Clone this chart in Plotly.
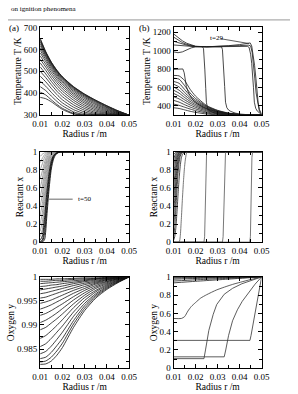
import plotly.graph_objects as go

W, H = 298, 394
FONT = "Liberation Serif, Times New Roman, serif"

# ---------------- common radius grid ----------------
R_GRID = [0.010, 0.0125, 0.015, 0.0175, 0.020, 0.025, 0.030, 0.035, 0.040, 0.045, 0.050]

# ---------------- (a) temperature T/K ----------------
T_A01 = [381, 375, 361, 343, 326, 305, 300, 300, 300, 300, 300]
T_A02 = [405, 392, 370, 349, 331, 308, 300, 300, 300, 300, 300]
T_A03 = [430, 412, 387, 363, 343, 315, 302, 300, 300, 300, 300]
T_A04 = [455, 432, 404, 378, 356, 325, 307, 301, 300, 300, 300]
T_A05 = [478, 452, 422, 394, 370, 336, 314, 303, 300, 300, 300]
T_A06 = [500, 471, 439, 409, 384, 347, 322, 307, 302, 300, 300]
T_A07 = [520, 488, 454, 423, 397, 358, 330, 312, 304, 301, 300]
T_A08 = [538, 504, 468, 436, 409, 368, 338, 318, 307, 302, 300]
T_A09 = [555, 519, 481, 448, 420, 378, 346, 324, 310, 303, 300]
T_A10 = [570, 532, 493, 459, 430, 387, 354, 330, 314, 304, 300]
T_A11 = [584, 544, 504, 469, 439, 395, 361, 336, 318, 306, 300]
T_A12 = [596, 554, 513, 477, 447, 402, 368, 342, 322, 308, 300]
T_A13 = [607, 563, 521, 484, 454, 409, 375, 348, 326, 310, 300]
T_A14 = [617, 570, 527, 490, 460, 415, 381, 353, 330, 312, 300]
T_A15 = [626, 576, 532, 495, 465, 420, 386, 358, 334, 314, 300]
T_A16 = [634, 581, 536, 499, 469, 424, 390, 362, 337, 316, 300]
T_A17 = [641, 585, 539, 502, 472, 427, 393, 365, 340, 318, 300]
T_A18 = [646, 588, 541, 504, 474, 429, 395, 367, 342, 319, 300]
T_A19 = [650, 590, 542, 505, 475, 430, 396, 368, 343, 320, 300]
TEMP_A = [T_A01, T_A02, T_A03, T_A04, T_A05, T_A06, T_A07, T_A08, T_A09, T_A10,
          T_A11, T_A12, T_A13, T_A14, T_A15, T_A16, T_A17, T_A18, T_A19]

# ---------------- (b) temperature T/K ----------------
T_B01 = [380, 372, 357, 342, 330, 312, 303, 300, 300, 300, 300]
T_B02 = [420, 406, 386, 366, 349, 323, 308, 301, 300, 300, 300]
T_B03 = [460, 441, 413, 388, 367, 334, 314, 303, 300, 300, 300]
T_B04 = [500, 476, 441, 410, 384, 345, 320, 306, 301, 300, 300]
T_B05 = [535, 506, 466, 430, 400, 355, 325, 309, 302, 300, 300]
T_B06 = [570, 538, 491, 449, 415, 364, 330, 312, 303, 300, 300]
T_B07 = [605, 570, 517, 469, 430, 373, 335, 314, 304, 301, 300]
T_B08 = [635, 605, 545, 489, 445, 381, 340, 316, 305, 301, 300]
T_B09 = [665, 645, 578, 512, 461, 389, 344, 318, 306, 301, 300]
T_B10 = [700, 690, 620, 540, 480, 396, 348, 320, 307, 302, 300]
T_B11 = [730, 725, 675, 580, 505, 404, 352, 322, 308, 302, 300]
TEMP_B_BAND = [T_B01, T_B02, T_B03, T_B04, T_B05, T_B06, T_B07, T_B08, T_B09, T_B10, T_B11]

R_B800 = [0.010, 0.012, 0.0135, 0.0142, 0.0148, 0.0153, 0.0158, 0.0165, 0.0175, 0.019,
          0.021, 0.0235, 0.026, 0.030, 0.035, 0.040, 0.050]
T_B800 = [796, 798, 806, 800, 760, 680, 610, 560, 510, 460, 420, 385, 360, 335, 315, 305, 300]

R_BP1 = [0.010, 0.012, 0.014, 0.016, 0.018, 0.020, 0.022, 0.0231, 0.0236, 0.0239, 0.0242,
         0.0246, 0.0249, 0.0254, 0.0262, 0.0275, 0.029, 0.031, 0.035, 0.040, 0.050]
T_BP1 = [985, 976, 985, 1008, 1028, 1040, 1043, 1042, 1020, 940, 790,
         590, 440, 375, 348, 332, 320, 311, 303, 300, 300]
R_BP2 = [0.010, 0.012, 0.014, 0.016, 0.018, 0.020, 0.025, 0.030, 0.0318, 0.0322, 0.0325,
         0.0328, 0.0332, 0.0336, 0.0342, 0.035, 0.036, 0.038, 0.040, 0.045, 0.050]
T_BP2 = [1060, 1055, 1050, 1046, 1043, 1041, 1040, 1040, 1039, 1010, 920,
         790, 610, 440, 380, 355, 340, 322, 312, 302, 300]
R_BP3 = [0.010, 0.012, 0.014, 0.016, 0.018, 0.020, 0.025, 0.030, 0.035, 0.040, 0.0435,
         0.0443, 0.0450, 0.0455, 0.0459, 0.0463, 0.0467, 0.0473, 0.0480, 0.0490, 0.0500]
T_BP3 = [1100, 1085, 1070, 1058, 1049, 1043, 1040, 1040, 1041, 1043, 1045,
         1035, 960, 860, 760, 600, 440, 375, 345, 322, 305]
R_BP4 = [0.010, 0.012, 0.014, 0.016, 0.018, 0.020, 0.025, 0.030, 0.035, 0.040, 0.0440,
         0.0450, 0.0457, 0.0463, 0.0469, 0.0475, 0.0482, 0.0490, 0.0500]
T_BP4 = [1145, 1112, 1086, 1066, 1052, 1044, 1040, 1042, 1047, 1053, 1058,
         1050, 980, 860, 700, 540, 420, 340, 310]
R_BP5 = [0.010, 0.012, 0.014, 0.016, 0.018, 0.020, 0.025, 0.030, 0.035, 0.040, 0.043,
         0.0448, 0.0455, 0.0462, 0.0468, 0.0474, 0.0479, 0.0484, 0.0490, 0.0496, 0.0500]
T_BP5 = [1180, 1140, 1105, 1078, 1058, 1046, 1040, 1044, 1052, 1064, 1074,
         1082, 1050, 960, 840, 700, 560, 440, 360, 325, 315]
PLATEAU_B = [(R_BP1, T_BP1), (R_BP2, T_BP2), (R_BP3, T_BP3), (R_BP4, T_BP4), (R_BP5, T_BP5)]

# ---------------- (a) reactant x ----------------
R_XA = [0.0100, 0.0110, 0.0120, 0.0130, 0.0140, 0.0150, 0.0160, 0.0170, 0.0180, 0.0190, 0.0200, 0.0500]
X_A01 = [0.95, 0.975, 0.99, 1, 1, 1, 1, 1, 1, 1, 1, 1]
X_A02 = [0.88, 0.93, 0.97, 0.99, 1, 1, 1, 1, 1, 1, 1, 1]
X_A03 = [0.80, 0.87, 0.94, 0.98, 0.995, 1, 1, 1, 1, 1, 1, 1]
X_A04 = [0.70, 0.79, 0.89, 0.96, 0.99, 1, 1, 1, 1, 1, 1, 1]
X_A05 = [0.60, 0.71, 0.84, 0.93, 0.98, 0.995, 1, 1, 1, 1, 1, 1]
X_A06 = [0.50, 0.62, 0.78, 0.90, 0.96, 0.99, 1, 1, 1, 1, 1, 1]
X_A07 = [0.40, 0.53, 0.71, 0.86, 0.94, 0.98, 0.995, 1, 1, 1, 1, 1]
X_A08 = [0.30, 0.43, 0.63, 0.81, 0.92, 0.97, 0.99, 1, 1, 1, 1, 1]
X_A09 = [0.20, 0.33, 0.54, 0.75, 0.89, 0.96, 0.985, 0.995, 1, 1, 1, 1]
X_A10 = [0.12, 0.23, 0.45, 0.69, 0.86, 0.94, 0.98, 0.995, 1, 1, 1, 1]
X_A11 = [0.06, 0.14, 0.36, 0.62, 0.82, 0.92, 0.97, 0.99, 1, 1, 1, 1]
X_A12 = [0.02, 0.07, 0.27, 0.55, 0.77, 0.90, 0.96, 0.985, 0.995, 1, 1, 1]
X_A13 = [0.005, 0.025, 0.18, 0.47, 0.72, 0.87, 0.95, 0.98, 0.995, 1, 1, 1]
X_A14 = [0, 0.008, 0.10, 0.38, 0.66, 0.85, 0.94, 0.975, 0.99, 1, 1, 1]
X_A15 = [0, 0, 0.03, 0.29, 0.59, 0.81, 0.92, 0.97, 0.99, 0.998, 1, 1]
REACT_A_GRAY = [X_A01, X_A02, X_A03, X_A04, X_A05, X_A06, X_A07, X_A08, X_A09, X_A10, X_A11]
REACT_A_DARK = [X_A12, X_A13, X_A14, X_A15]

# ---------------- (b) reactant x ----------------
R_XB = [0.010, 0.0105, 0.011, 0.0115, 0.012, 0.0125, 0.013, 0.0135, 0.014, 0.015, 0.050]
X_B01 = [0.97, 0.985, 0.995, 1, 1, 1, 1, 1, 1, 1, 1]
X_B02 = [0.92, 0.955, 0.98, 0.995, 1, 1, 1, 1, 1, 1, 1]
X_B03 = [0.85, 0.91, 0.955, 0.985, 0.995, 1, 1, 1, 1, 1, 1]
X_B04 = [0.75, 0.84, 0.91, 0.96, 0.985, 0.995, 1, 1, 1, 1, 1]
X_B05 = [0.62, 0.74, 0.85, 0.93, 0.97, 0.99, 1, 1, 1, 1, 1]
X_B06 = [0.48, 0.62, 0.77, 0.88, 0.95, 0.98, 0.995, 1, 1, 1, 1]
X_B07 = [0.33, 0.48, 0.66, 0.81, 0.91, 0.96, 0.985, 0.995, 1, 1, 1]
X_B08 = [0.18, 0.32, 0.52, 0.71, 0.85, 0.93, 0.97, 0.99, 1, 1, 1]
X_B09 = [0.06, 0.16, 0.35, 0.57, 0.76, 0.88, 0.95, 0.98, 0.995, 1, 1]
X_B10 = [0.02, 0.06, 0.15, 0.32, 0.52, 0.70, 0.84, 0.93, 0.97, 1, 1]
REACT_B_EARLY = [X_B01, X_B02, X_B03, X_B04, X_B05, X_B06, X_B07, X_B08, X_B09, X_B10]

R_XB800 = [0.010, 0.0125, 0.0130, 0.0135, 0.0140, 0.0145, 0.0150, 0.0155, 0.0162, 0.050]
X_B800 = [0, 0, 0.06, 0.25, 0.48, 0.68, 0.84, 0.94, 1, 1]
FRONT_LEVELS = [0, 0, 0.06, 0.5, 0.94, 1, 1]
R_XF1 = [0.010, 0.0238, 0.0241, 0.0244, 0.0247, 0.0250, 0.050]
R_XF2 = [0.010, 0.0322, 0.0325, 0.0329, 0.0333, 0.0336, 0.050]
R_XF3 = [0.010, 0.0446, 0.0449, 0.0452, 0.0456, 0.0459, 0.050]

# ---------------- (a) oxygen y ----------------
Y_A01 = [0.9818, 0.9819, 0.9825, 0.9837, 0.9853, 0.9895, 0.9930, 0.9956, 0.9974, 0.9988, 1.0]
Y_A02 = [0.9823, 0.9825, 0.9833, 0.9846, 0.9862, 0.9902, 0.9935, 0.9959, 0.9976, 0.9989, 1.0]
Y_A03 = [0.9830, 0.9833, 0.9843, 0.9857, 0.9872, 0.9909, 0.9940, 0.9962, 0.9978, 0.9990, 1.0]
Y_A04 = [0.9840, 0.9845, 0.9856, 0.9870, 0.9885, 0.9918, 0.9945, 0.9965, 0.9980, 0.9991, 1.0]
Y_A05 = [0.9855, 0.9861, 0.9872, 0.9885, 0.9898, 0.9927, 0.9951, 0.9969, 0.9982, 0.9992, 1.0]
Y_A06 = [0.9872, 0.9878, 0.9888, 0.9899, 0.9911, 0.9936, 0.9957, 0.9972, 0.9984, 0.9993, 1.0]
Y_A07 = [0.9890, 0.9895, 0.9904, 0.9913, 0.9923, 0.9944, 0.9962, 0.9976, 0.9986, 0.9994, 1.0]
Y_A08 = [0.9905, 0.9910, 0.9917, 0.9925, 0.9934, 0.9952, 0.9967, 0.9979, 0.9988, 0.9995, 1.0]
Y_A09 = [0.9920, 0.9924, 0.9930, 0.9937, 0.9944, 0.9959, 0.9972, 0.9982, 0.9990, 0.9996, 1.0]
Y_A10 = [0.9933, 0.9937, 0.9942, 0.9948, 0.9954, 0.9966, 0.9976, 0.9985, 0.9991, 0.9996, 1.0]
Y_A11 = [0.9945, 0.9948, 0.9952, 0.9957, 0.9962, 0.9972, 0.9980, 0.9987, 0.9993, 0.9997, 1.0]
Y_A12 = [0.9956, 0.9958, 0.9962, 0.9966, 0.9970, 0.9977, 0.9984, 0.9989, 0.9994, 0.9997, 1.0]
Y_A13 = [0.9965, 0.9967, 0.9970, 0.9973, 0.9976, 0.9982, 0.9987, 0.9991, 0.9995, 0.9998, 1.0]
Y_A14 = [0.9973, 0.9975, 0.9977, 0.9979, 0.9981, 0.9986, 0.9990, 0.9993, 0.9996, 0.9998, 1.0]
Y_A15 = [0.9980, 0.9981, 0.9983, 0.9984, 0.9986, 0.9989, 0.9992, 0.9995, 0.9997, 0.9999, 1.0]
Y_A16 = [0.9986, 0.9987, 0.9988, 0.9989, 0.9990, 0.9992, 0.9994, 0.9996, 0.9998, 0.9999, 1.0]
Y_A17 = [0.9991, 0.9991, 0.9992, 0.9993, 0.9993, 0.9995, 0.9996, 0.9997, 0.9998, 0.9999, 1.0]
Y_A18 = [0.9995, 0.9995, 0.9995, 0.9996, 0.9996, 0.9997, 0.9998, 0.9998, 0.9999, 1.0, 1.0]
OXY_A = [Y_A01, Y_A02, Y_A03, Y_A04, Y_A05, Y_A06, Y_A07, Y_A08, Y_A09, Y_A10,
         Y_A11, Y_A12, Y_A13, Y_A14, Y_A15, Y_A16, Y_A17, Y_A18]

# ---------------- (b) oxygen y ----------------
R_YB_TOP = [0.010, 0.020, 0.030, 0.040, 0.050]
Y_B_TOP1 = [0.935, 0.952, 0.968, 0.984, 1.0]
Y_B_TOP2 = [0.955, 0.968, 0.980, 0.990, 1.0]
Y_B_TOP3 = [0.975, 0.983, 0.990, 0.996, 1.0]
Y_B_TOP4 = [0.988, 0.992, 0.995, 0.998, 1.0]
Y_B_TOP5 = [0.996, 0.997, 0.998, 0.999, 1.0]
OXY_B_TOP = [Y_B_TOP1, Y_B_TOP2, Y_B_TOP3, Y_B_TOP4, Y_B_TOP5]

R_YB_D = [0.010, 0.0135, 0.015, 0.0165, 0.018, 0.020, 0.0223, 0.025, 0.0296, 0.0368, 0.044, 0.050]
Y_B_D = [0.545, 0.545, 0.565, 0.626, 0.675, 0.72, 0.768, 0.805, 0.858, 0.918, 0.965, 1.0]
R_YB_A = [0.010, 0.0238, 0.0245, 0.026, 0.028, 0.0296, 0.033, 0.0368, 0.041, 0.045, 0.050]
Y_B_A = [0.105, 0.105, 0.2, 0.413, 0.59, 0.698, 0.81, 0.875, 0.925, 0.96, 1.0]
R_YB_B = [0.010, 0.0330, 0.0337, 0.0350, 0.0368, 0.039, 0.0412, 0.044, 0.047, 0.050]
Y_B_B = [0.125, 0.125, 0.2, 0.36, 0.52, 0.64, 0.733, 0.83, 0.92, 1.0]
R_YB_C = [0.010, 0.0447, 0.0452, 0.050]
Y_B_C = [0.305, 0.305, 0.36, 1.0]

# ---------------- axis tick settings ----------------
X_TICKS = [0.01, 0.02, 0.03, 0.04, 0.05]

fig = go.Figure()


def add(r, v, ax, color="#111", width=0.8, shape="spline"):
    line = dict(color=color, width=width, shape=shape)
    if shape == "spline":
        line["smoothing"] = 0.6
    fig.add_trace(go.Scatter(x=r, y=v, mode="lines", line=line,
                             xaxis="x" + ax, yaxis="y" + ax,
                             showlegend=False, hoverinfo="skip"))


for c in TEMP_A:
    add(R_GRID, c, "", "#1a1a1a", 0.8)
for c in TEMP_B_BAND:
    add(R_GRID, c, "2", "#1a1a1a", 0.8)
add(R_B800, T_B800, "2", "#1a1a1a", 0.8, "linear")
for r, t in PLATEAU_B:
    add(r, t, "2", "#1a1a1a", 0.8, "linear")

for c in REACT_A_GRAY:
    add(R_XA, c, "3", "#8a8a8a", 0.8)
for c in REACT_A_DARK:
    add(R_XA, c, "3", "#111", 0.9)

for c in REACT_B_EARLY:
    add(R_XB, c, "4", "#222", 0.8)
add(R_XB800, X_B800, "4", "#555", 0.8)
for r in (R_XF1, R_XF2, R_XF3):
    add(r, FRONT_LEVELS, "4", "#555", 0.8, "linear")

for c in OXY_A:
    add(R_GRID, c, "5", "#111", 0.8)

for c in OXY_B_TOP:
    add(R_YB_TOP, c, "6", "#222", 0.8)
add(R_YB_D, Y_B_D, "6", "#333", 0.8)
add(R_YB_A, Y_B_A, "6", "#333", 0.8, "linear")
add(R_YB_B, Y_B_B, "6", "#333", 0.8, "linear")
add(R_YB_C, Y_B_C, "6", "#333", 0.8, "linear")

# ---------------- layout ----------------
tickfont = dict(family=FONT, size=9, color="black")
titlefont = dict(family=FONT, size=9.5, color="black")


def xa(domain, anchor):
    return dict(domain=domain, anchor=anchor, range=[0.01, 0.05], tickvals=X_TICKS,
                ticktext=["0.01", "0.02", "0.03", "0.04", "0.05"],
                showline=True, linecolor="black", linewidth=1, mirror="allticks",
                ticks="inside", ticklen=4, tickcolor="black",
                minor=dict(ticks="inside", ticklen=3, tickcolor="black", dtick=0.005, tick0=0.0),
                showgrid=False, zeroline=False, tickfont=tickfont,
                title=dict(text="Radius r /m", font=titlefont, standoff=0))


def ya(domain, anchor, rng, dtick, minor, title):
    return dict(domain=domain, anchor=anchor, range=rng, dtick=dtick, tick0=0,
                showline=True, linecolor="black", linewidth=1, mirror="allticks",
                ticks="inside", ticklen=4, tickcolor="black",
                minor=dict(ticks="inside", ticklen=3, tickcolor="black", dtick=minor, tick0=0),
                showgrid=False, zeroline=False, tickfont=tickfont,
                title=dict(text=title, font=titlefont, standoff=0))


XA_DOM = [34 / W, 128 / W]
XB_DOM = [175 / W, 268 / W]
ROW1 = [1 - 113 / H, 1 - 23 / H]
ROW2 = [1 - 243.3 / H, 1 - 150.7 / H]
ROW3 = [1 - 372.7 / H, 1 - 279 / H]

fig.update_layout(
    width=W, height=H, margin=dict(l=0, r=0, t=0, b=0),
    paper_bgcolor="white", plot_bgcolor="white",
    xaxis=xa(XA_DOM, "y"), yaxis=ya(ROW1, "x", [300, 700], 100, 50, "Temperature T /K"),
    xaxis2=xa(XB_DOM, "y2"), yaxis2=ya(ROW1, "x2", [300, 1250], 200, 100, "Temperature T /K"),
    xaxis3=xa(XA_DOM, "y3"), yaxis3=ya(ROW2, "x3", [0, 1], 0.2, 0.1, "Reactant x"),
    xaxis4=xa(XB_DOM, "y4"), yaxis4=ya(ROW2, "x4", [0, 1], 0.2, 0.1, "Reactant x"),
    xaxis5=xa(XA_DOM, "y5"), yaxis5=ya(ROW3, "x5", [0.981, 1.0], 0.005, 0.0025, "Oxygen y"),
    xaxis6=xa(XB_DOM, "y6"), yaxis6=ya(ROW3, "x6", [0, 1], 0.2, 0.1, "Oxygen y"),
)
fig.layout.yaxis5.tick0 = 1.0
fig.layout.yaxis5.minor.tick0 = 1.0

annos = [
    dict(text="on ignition phenomena", x=1 / W, y=1 - 4.5 / H, xref="paper", yref="paper",
         xanchor="left", yanchor="middle", showarrow=False, font=dict(family=FONT, size=7, color="black")),
    dict(text="(a)", x=6.7 / W, y=1 - 24 / H, xref="paper", yref="paper",
         xanchor="center", yanchor="middle", showarrow=False, font=dict(family=FONT, size=9, color="black")),
    dict(text="(b)", x=144.5 / W, y=1 - 24 / H, xref="paper", yref="paper",
         xanchor="center", yanchor="middle", showarrow=False, font=dict(family=FONT, size=9, color="black")),
    dict(text="t=29", x=0.0257, y=1139, xref="x2", yref="y2", xanchor="left", yanchor="middle",
         showarrow=False, font=dict(family=FONT, size=7, color="black")),
    dict(text="t=50", x=0.0263, y=0.475, xref="x3", yref="y3", xanchor="left", yanchor="middle",
         showarrow=False, font=dict(family=FONT, size=7, color="black")),
]
fig.update_layout(annotations=annos)

fig.update_layout(shapes=[
    dict(type="line", xref="paper", yref="paper", x0=0, x1=1, y0=1 - 15.3 / H, y1=1 - 15.3 / H,
         line=dict(color="#999", width=1)),
    dict(type="line", xref="x2", yref="y2", x0=0.0313, y0=1128, x1=0.0443, y1=1075,
         line=dict(color="#333", width=0.8)),
    dict(type="line", xref="x3", yref="y3", x0=0.0140, y0=0.475, x1=0.0246, y1=0.475,
         line=dict(color="#999", width=1.5)),
])

fig.write_html("out.html")
